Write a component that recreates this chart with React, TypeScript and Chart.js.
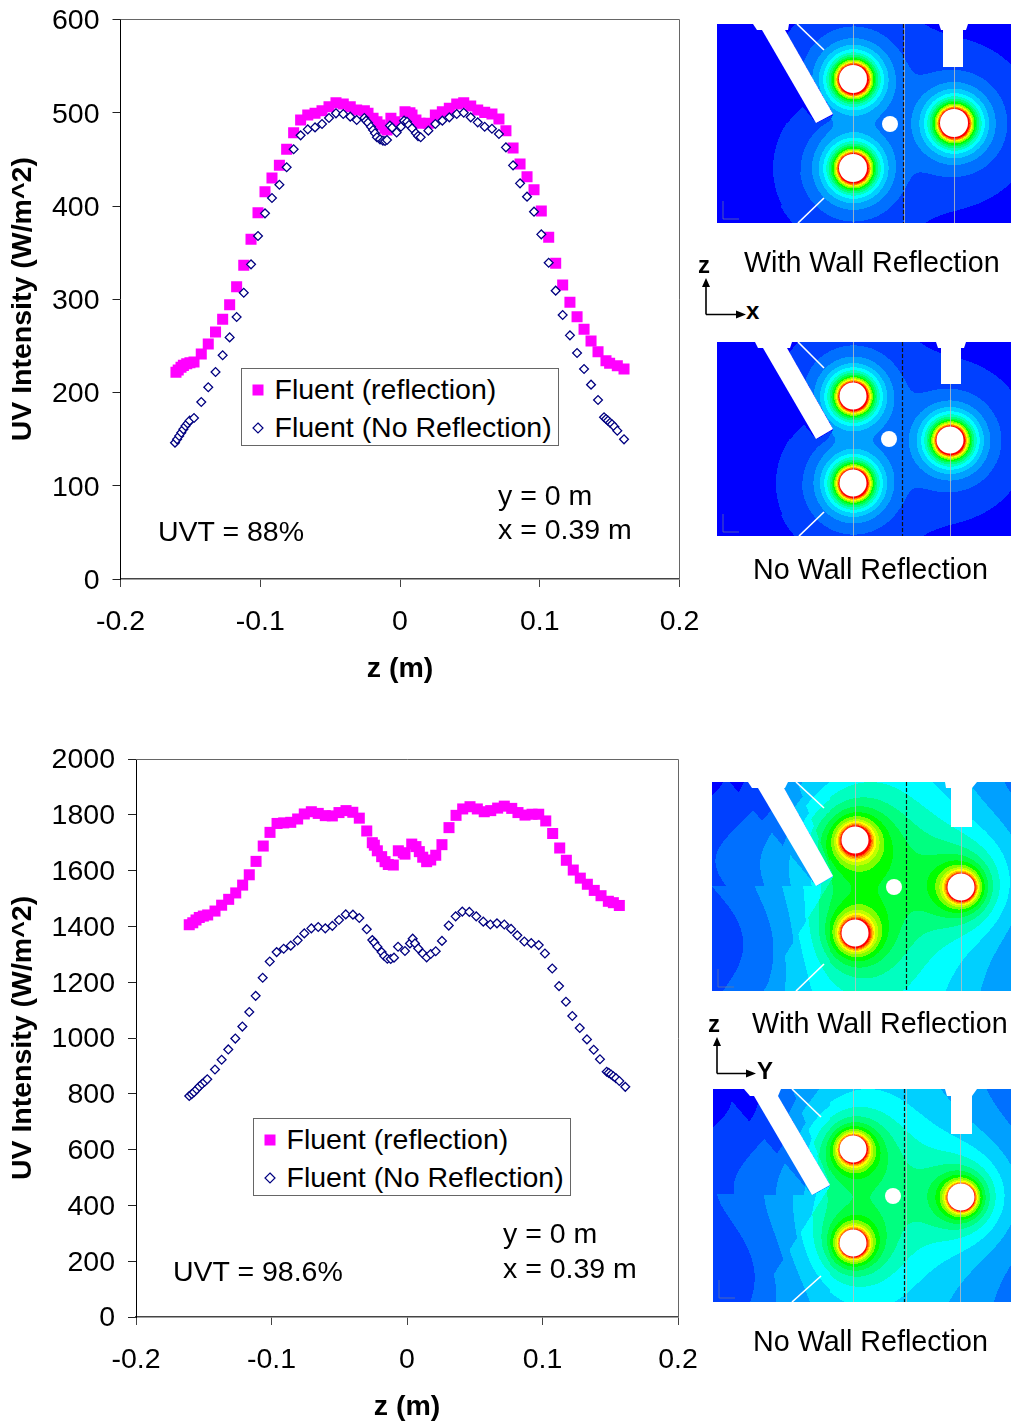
import React, { useEffect, useRef } from "react";
import { Chart, registerables } from "chart.js";

Chart.register(...registerables);

const FONT = "'Liberation Sans', Arial, sans-serif";
const seriesReflect = "Fluent (reflection)";
const seriesNone = "Fluent (No Reflection)";

// Chart 1, UVT = 88%
const z1Reflect = [-0.1603,-0.1587,-0.1567,-0.155,-0.1526,-0.1503,-0.1474,-0.1422,-0.1372,-0.132,-0.1269,-0.1219,-0.1169,-0.1118,-0.1066,-0.1016,-0.0966,-0.0916,-0.0863,-0.0811,-0.0761,-0.0711,-0.066,-0.0608,-0.0558,-0.0508,-0.0458,-0.0406,-0.0356,-0.031,-0.0255,-0.0229,-0.0193,-0.0165,-0.0143,-0.0107,-0.0093,-0.0065,-0.0036,0.0036,0.0071,0.0086,0.0114,0.0143,0.0203,0.0253,0.0303,0.0353,0.0406,0.0456,0.0506,0.0556,0.0606,0.0658,0.0708,0.0758,0.0809,0.0859,0.0909,0.0959,0.1011,0.1064,0.1114,0.1164,0.1216,0.1267,0.1317,0.1367,0.1417,0.1474,0.15,0.1555,0.1603];
const i1Reflect = [221.6,224.1,227,229.1,230.9,232,232.7,241.3,252,264.9,278.5,294.2,313.5,336.4,364.3,392.8,415.3,430,443.6,460.8,478.6,492.2,497.6,499.4,502.2,506.5,510.8,509.4,506.5,503,502.2,499.4,494,490.4,486.9,483.3,481.5,494,490.4,501,500,497.6,492.2,488.7,488.7,497.6,501,504.7,509.4,510.8,507.2,503,500.4,498.7,493.3,480.8,462.2,445,431.4,417.5,394.6,366.4,338.5,315.3,296.7,281.3,267.8,255.2,243.8,234.1,231.3,228.7,225.2];
const z1None = [-0.161,-0.1595,-0.158,-0.1565,-0.155,-0.1535,-0.152,-0.1505,-0.1474,-0.1422,-0.1372,-0.132,-0.1269,-0.1219,-0.1169,-0.1118,-0.1066,-0.1016,-0.0966,-0.0916,-0.0863,-0.0811,-0.0761,-0.0711,-0.066,-0.0608,-0.0558,-0.0508,-0.0458,-0.0406,-0.0356,-0.031,-0.0255,-0.0243,-0.0229,-0.0208,-0.0193,-0.0179,-0.0165,-0.0143,-0.0122,-0.0107,-0.0093,-0.0072,-0.0057,-0.0024,0.0007,0.0029,0.005,0.0064,0.0086,0.0114,0.0129,0.0148,0.0203,0.0253,0.0303,0.0353,0.0406,0.0456,0.0506,0.0556,0.0606,0.0658,0.0708,0.0758,0.0809,0.0859,0.0909,0.0959,0.1011,0.1064,0.1114,0.1164,0.1216,0.1267,0.1317,0.1367,0.1417,0.146,0.1474,0.1488,0.1503,0.1517,0.1534,0.1555,0.1603];
const i1None = [146.2,149.8,153.4,156.9,160.5,164.1,166.9,169.8,172.7,189.8,205.6,222,239.9,259.1,281,307,337.4,367.8,392.1,408.6,422.8,441.5,460.8,475.8,482.2,484.3,487.9,494.4,499.4,498.7,495.8,492.2,494.4,491.5,489.3,485,481.5,478,473.7,471.5,470,469.7,470.8,486.2,484,478.8,485,491.5,490.4,486.9,483.3,478,475,473.7,480.8,487.9,491.5,495.1,498.7,500,495.1,489.7,485,482.9,477.2,462.9,443.6,424.3,410,393.9,369.6,339.2,309.2,283.1,261.3,242.4,225.2,208.4,192,173.4,171.6,169.8,167.6,165.9,163.3,159,149.8];

// Chart 2, UVT = 98.6%
const z2Reflect = [-0.1607,-0.1581,-0.1557,-0.1533,-0.1503,-0.1471,-0.1417,-0.1368,-0.1316,-0.1264,-0.1213,-0.1164,-0.1114,-0.1061,-0.1011,-0.0959,-0.091,-0.0858,-0.0807,-0.0758,-0.0706,-0.0655,-0.0603,-0.0551,-0.0502,-0.045,-0.04,-0.0352,-0.0297,-0.0256,-0.0241,-0.0219,-0.0187,-0.0162,-0.0138,-0.0101,-0.0064,-0.0027,-0.0015,0.0035,0.0066,0.0091,0.0116,0.0145,0.0175,0.0212,0.0258,0.031,0.0362,0.0411,0.0465,0.0519,0.057,0.0618,0.0669,0.0718,0.0773,0.0819,0.0871,0.0923,0.0972,0.1024,0.1075,0.1127,0.1176,0.1227,0.1279,0.1331,0.1382,0.1432,0.1486,0.1523,0.1567];
const i2Reflect = [1406,1413,1423,1432,1437,1441,1455,1476,1497,1520,1548,1585,1633,1688,1737,1769,1771,1773,1785,1803,1811,1805,1797,1796,1808,1815,1809,1788,1742,1700,1691,1671,1650,1632,1622,1620,1671,1664,1659,1695,1686,1668,1648,1632,1638,1655,1693,1754,1798,1821,1829,1821,1811,1815,1824,1831,1823,1808,1799,1802,1802,1778,1733,1681,1637,1602,1573,1551,1529,1510,1490,1485,1475];
const z2None = [-0.1607,-0.1589,-0.1572,-0.1552,-0.1533,-0.1513,-0.1493,-0.1474,-0.1417,-0.1368,-0.1319,-0.1267,-0.1215,-0.1164,-0.1117,-0.1065,-0.1013,-0.0962,-0.091,-0.0858,-0.0807,-0.0758,-0.0706,-0.0655,-0.0603,-0.0551,-0.0502,-0.0452,-0.0399,-0.0352,-0.0297,-0.0256,-0.0241,-0.0219,-0.0187,-0.0168,-0.0145,-0.012,-0.0096,-0.0066,-0.0015,0.0022,0.0042,0.0059,0.0083,0.0116,0.0145,0.0175,0.0212,0.0258,0.0308,0.0359,0.0408,0.046,0.0511,0.0563,0.0615,0.0664,0.0718,0.0768,0.0814,0.0866,0.0917,0.0972,0.1018,0.1072,0.1122,0.1173,0.122,0.1275,0.1328,0.1378,0.1424,0.1474,0.1489,0.1506,0.1523,0.1542,0.1567,0.1611];
const i2None = [792,799,806,816,826,835,843,852,887,922,959,998,1041,1093,1151,1216,1274,1308,1320,1331,1350,1375,1393,1398,1393,1402,1423,1443,1442,1430,1390,1351,1342,1327,1308,1294,1284,1283,1288,1327,1312,1339,1356,1339,1321,1303,1289,1301,1311,1348,1403,1436,1453,1452,1436,1417,1407,1411,1407,1391,1368,1346,1340,1333,1303,1249,1186,1130,1079,1036,995,958,924,879,875,869,863,856,846,825];

const xTicks1 = [-0.2, -0.1, 0, 0.1, 0.2];
const yMax1 = 600, yStep1 = 100, yMax2 = 2000, yStep2 = 200;
const xTitle = "z (m)";
const yTitle = "UV Intensity (W/m^2)";

const bandColors = ["#0000ff","#0040ff","#0070ff","#00a0ff","#00d0ff","#00ffff","#00ffc0","#00ff80","#00ff40","#00ff00","#80ff00","#c0ff00","#ffff00","#ffc000","#ff8000","#ff4000","#ff0000"];

type Pt = [number, number];
type Panel = {
  x: number; y: number; w: number; h: number;
  lamps: Pt[]; hole: Pt; lampR: number;
  wall: Pt[]; flange: Pt[]; tee: Pt[]; lines: [Pt, Pt][];
  gray: number[]; dashed: number;
  coreK: number; coreP: number; tailK: number; tailP: number; q: number;
  base: number; wave: number; leak: number;
};

const sharp = { coreK: 18, coreP: 1.66, tailK: 0, tailP: 1, q: 2.5, base: 0, wave: 0, leak: 0 };

const panels: Panel[] = [
  { ...sharp, x: 717, y: 24, w: 294, h: 199, lamps: [[853,79],[853,168],[954,123]], hole: [890,124], lampR: 14,
    wall: [[762,30],[785,30],[833,114],[816,123]], flange: [[753,24],[789,24],[788,30],[757,30]],
    tee: [[939,24],[968,24],[966,30],[963,30],[963,67],[943,67],[943,30],[941,30]],
    lines: [[[797,24],[824,50]],[[824,198],[798,223]]], gray: [853,904,954], dashed: 903 },
  { ...sharp, x: 717, y: 342, w: 294, h: 194, lamps: [[853,396],[853,483],[950,440]], hole: [889,439], lampR: 13.5,
    wall: [[763,348],[787,348],[833,429],[816,439]], flange: [[755,342],[792,342],[790,348],[758,348]],
    tee: [[936,342],[966,342],[964,348],[961,348],[961,384],[941,384],[941,348],[938,348]],
    lines: [[[798,342],[824,368]],[[824,512],[799,536]]], gray: [853,950], dashed: 902 },
  { x: 712, y: 782, w: 299, h: 209, lamps: [[855,840],[855,933],[961,887]], hole: [894,887], lampR: 13.5,
    wall: [[758,788],[784,788],[833,876],[816,886]], flange: [[748,782],[788,782],[785,788],[752,788]],
    tee: [[945,782],[977,782],[972,788],[972,827],[951,827],[951,788],[946,788]],
    lines: [[[796,782],[824,808]],[[824,964],[796,991]]], gray: [855,961], dashed: 906,
    coreK: 10.5, coreP: 1.1, tailK: 3, tailP: 6, q: 1, base: 2.7, wave: 0.45, leak: 0.4 },
  { x: 713, y: 1089, w: 298, h: 213, lamps: [[853,1149],[853,1243],[961,1197]], hole: [893,1196], lampR: 13.5,
    wall: [[754,1096],[778,1096],[830,1185],[812,1195]], flange: [[744,1089],[781,1089],[778,1096],[750,1096]],
    tee: [[945,1089],[977,1089],[972,1096],[972,1134],[951,1134],[951,1096],[947,1096]],
    lines: [[[792,1089],[821,1117]],[[821,1276],[792,1302]]], gray: [853,906,960], dashed: 904,
    coreK: 10, coreP: 1.1, tailK: 3, tailP: 6, q: 1, base: 1.9, wave: 0.35, leak: 0.35 },
];

function crosses(a: Pt, b: Pt, c: Pt, d: Pt) {
  const s = (p: Pt, q: Pt, r: Pt) => (q[0]-p[0])*(r[1]-p[1]) - (q[1]-p[1])*(r[0]-p[0]);
  return s(a,b,c)*s(a,b,d) < 0 && s(c,d,a)*s(c,d,b) < 0;
}

function poly(ctx: CanvasRenderingContext2D, pts: Pt[], ox: number, oy: number) {
  ctx.beginPath();
  pts.forEach((p, i) => (i ? ctx.lineTo(p[0]-ox, p[1]-oy) : ctx.moveTo(p[0]-ox, p[1]-oy)));
  ctx.closePath();
  ctx.fill();
}

function drawPanel(c: HTMLCanvasElement, P: Panel) {
  const ctx = c.getContext("2d")!;
  const occl: [Pt, Pt][] = [[P.wall[0], P.wall[3]], [P.wall[1], P.wall[2]], [P.wall[2], P.wall[3]]];
  for (let py = 0; py < P.h; py++) for (let px = 0; px < P.w; px++) {
    const X = px + P.x, Y = py + P.y;
    let sum = 0;
    for (const L of P.lamps) {
      const r = Math.max(Math.hypot(X-L[0], Y-L[1]), 1);
      const hidden = occl.some(([a, b]) => crosses([X,Y], L, a, b));
      const t = (P.coreK * Math.pow(P.lampR / r, P.coreP) + P.tailK * Math.pow(P.lampR / r, P.tailP)) * (hidden ? P.leak : 1);
      sum += Math.pow(t, P.q);
    }
    const bump = Math.exp(-Math.pow((X - 885) / 120, 2));
    const v = Math.pow(sum, 1 / P.q) + P.base * bump + P.wave * Math.sin(Y / 26) * (X < 830 ? 1 : 0.5);
    ctx.fillStyle = bandColors[Math.min(bandColors.length-1, Math.max(0, Math.floor(v)))];
    ctx.fillRect(px, py, 1, 1);
  }
  ctx.strokeStyle = "rgba(190,190,190,0.8)"; ctx.lineWidth = 1;
  for (const g of P.gray) { ctx.beginPath(); ctx.moveTo(g-P.x+0.5, 0); ctx.lineTo(g-P.x+0.5, P.h); ctx.stroke(); }
  ctx.fillStyle = "#fff";
  poly(ctx, P.wall, P.x, P.y); poly(ctx, P.flange, P.x, P.y); poly(ctx, P.tee, P.x, P.y);
  for (const L of P.lamps) { ctx.beginPath(); ctx.arc(L[0]-P.x, L[1]-P.y, P.lampR, 0, 7); ctx.fill(); }
  ctx.beginPath(); ctx.arc(P.hole[0]-P.x, P.hole[1]-P.y, 8, 0, 7); ctx.fill();
  ctx.strokeStyle = "#fff"; ctx.lineWidth = 1.6;
  for (const [a, b] of P.lines) { ctx.beginPath(); ctx.moveTo(a[0]-P.x, a[1]-P.y); ctx.lineTo(b[0]-P.x, b[1]-P.y); ctx.stroke(); }
  ctx.strokeStyle = "#111"; ctx.setLineDash([4, 2]); ctx.lineWidth = 1.2;
  ctx.beginPath(); ctx.moveTo(P.dashed-P.x+0.5, 0); ctx.lineTo(P.dashed-P.x+0.5, P.h); ctx.stroke();
  ctx.setLineDash([]);
  ctx.strokeStyle = "#6a7a9a"; ctx.lineWidth = 0.7;
  ctx.beginPath(); ctx.moveTo(6, P.h-22); ctx.lineTo(6, P.h-4); ctx.lineTo(22, P.h-4); ctx.stroke();
}

const framePlugin = {
  id: "frame",
  afterDraw(chart: any) {
    const { ctx, chartArea: a } = chart;
    ctx.save();
    ctx.strokeStyle = "#666"; ctx.lineWidth = 1;
    ctx.beginPath();
    ctx.moveTo(a.left, Math.floor(a.top)+0.5); ctx.lineTo(Math.floor(a.right)+0.5, Math.floor(a.top)+0.5);
    ctx.lineTo(Math.floor(a.right)+0.5, a.bottom);
    ctx.stroke();
    ctx.restore();
  },
};

const toPoints = (zs: number[], is: number[]) => zs.map((x, k) => ({ x, y: is[k] }));

function makeChart(c: HTMLCanvasElement, o: any) {
  const tickFont = { family: FONT, size: 28.5 };
  const titleFont = { family: FONT, size: 28.5, weight: "bold" as const, lineHeight: 1 };
  return new Chart(c, {
    type: "scatter",
    data: { datasets: [
      { label: seriesReflect, data: toPoints(o.zR, o.iR), pointStyle: "rect", pointRadius: 7.8, pointBackgroundColor: "#ff00ff", pointBorderWidth: 0, order: 2 },
      { label: seriesNone, data: toPoints(o.zN, o.iN), pointStyle: "rectRot", pointRadius: 4.4, pointBackgroundColor: "#ffffff", pointBorderColor: "#000080", pointBorderWidth: 1.3, order: 1 },
    ] },
    options: {
      animation: false, responsive: false, devicePixelRatio: 1,
      layout: { padding: { top: o.padTop, right: o.padRight, left: 0, bottom: 0 } },
      plugins: { legend: { display: false }, tooltip: { enabled: false }, title: { display: false } },
      scales: {
        x: {
          type: "linear", min: -0.2, max: 0.2,
          afterFit(s: any) { s.height = o.xH; s.paddingLeft = 0; s.paddingRight = 0; },
          afterBuildTicks(s: any) { s.ticks = xTicks1.map((value) => ({ value })); },
          ticks: { font: tickFont, color: "#000", padding: o.xPad, maxRotation: 0, callback: (v: number) => String(v) },
          grid: { display: true, drawOnChartArea: false, drawTicks: true, tickLength: 8, color: "#444", lineWidth: 1 },
          border: { display: true, color: "#444", width: 1.6 },
          title: { display: true, text: xTitle, font: titleFont, color: "#000", padding: { top: 0, bottom: o.xTitlePad } },
        },
        y: {
          type: "linear", min: 0, max: o.yMax,
          afterFit(s: any) { s.width = o.yW; s.paddingTop = 0; s.paddingBottom = 0; },
          ticks: { font: tickFont, color: "#000", padding: 13, stepSize: o.yStep, labelOffset: o.yLabelOffset, callback: (v: number) => String(v) },
          grid: { display: true, drawOnChartArea: false, drawTicks: true, tickLength: 8, color: "#222", lineWidth: 1 },
          border: { display: true, color: "#000", width: 1 },
          title: { display: true, text: yTitle, font: titleFont, color: "#000", padding: { top: 9, bottom: 0 } },
        },
      },
    },
    plugins: [framePlugin],
  } as any);
}

const Txt = ({ x, cy, s, bold, size = 28.5 }: { x: number; cy: number; s: string; bold?: boolean; size?: number }) => (
  <div style={{ position: "absolute", left: x, top: cy - size / 2, fontFamily: FONT, fontSize: size, lineHeight: `${size}px`, fontWeight: bold ? 700 : 400, color: "#000", whiteSpace: "nowrap" }}>{s}</div>
);

const Legend = ({ x, y }: { x: number; y: number }) => (
  <>
    <div style={{ position: "absolute", left: x, top: y, width: 316, height: 76, border: "1.5px solid #666", background: "#fff" }} />
    <svg style={{ position: "absolute", left: x, top: y }} width={40} height={78}>
      <rect x={11.5} y={16.5} width={11} height={11} fill="#ff00ff" />
      <path d="M17 55 L22 60 L17 65 L12 60 Z" fill="#fff" stroke="#000080" strokeWidth={1.2} />
    </svg>
    <Txt x={x + 33.5} cy={y + 21} s={seriesReflect} />
    <Txt x={x + 33.5} cy={y + 59} s={seriesNone} />
  </>
);

const Axes = ({ ox, oy, w, h }: { ox: number; oy: number; w: number; h: number }) => (
  <svg style={{ position: "absolute", left: ox - 8, top: oy - h - 8 }} width={w + 16} height={h + 16}>
    <path d={`M8 ${h + 8 + 0.5} V10 M8 ${h + 8.5} H${w + 4}`} stroke="#000" strokeWidth={1.6} fill="none" />
    <path d={`M8 3 L12 12 L4 12 Z M${w + 12} ${h + 8.5} L${w + 2} ${h + 4.5} L${w + 2} ${h + 12.5} Z`} fill="#000" />
  </svg>
);

export default function App() {
  const c1 = useRef<HTMLCanvasElement>(null);
  const c2 = useRef<HTMLCanvasElement>(null);
  const pRefs = useRef<(HTMLCanvasElement | null)[]>([]);
  useEffect(() => {
    const a = makeChart(c1.current!, { zR: z1Reflect, iR: i1Reflect, zN: z1None, iN: i1None, yMax: yMax1, yStep: yStep1, padTop: 19.5, padRight: 40.5, xH: 121, yW: 120.5, xPad: 18, xTitlePad: 17, yLabelOffset: 2 });
    const b = makeChart(c2.current!, { zR: z2Reflect, iR: i2Reflect, zN: z2None, iN: i2None, yMax: yMax2, yStep: yStep2, padTop: 59, padRight: 42, xH: 105, yW: 136, xPad: 18, xTitlePad: 1, yLabelOffset: 1.5 });
    panels.forEach((P, i) => drawPanel(pRefs.current[i]!, P));
    return () => { a.destroy(); b.destroy(); };
  }, []);
  return (
    <div style={{ position: "absolute", left: 0, top: 0, width: 1011, height: 1422, overflow: "hidden", background: "#fff" }}>
      <canvas ref={c1} width={720} height={700} style={{ position: "absolute", left: 0, top: 0 }} />
      <canvas ref={c2} width={720} height={722} style={{ position: "absolute", left: 0, top: 700 }} />
      {panels.map((P, i) => (
        <canvas key={i} ref={(el) => { pRefs.current[i] = el; }} width={P.w} height={P.h} style={{ position: "absolute", left: P.x, top: P.y }} />
      ))}
      <Legend x={241} y={368} />
      <Legend x={253} y={1118} />
      <Txt x={158} cy={531} s="UVT = 88%" />
      <Txt x={498} cy={495} s="y = 0 m" />
      <Txt x={498} cy={529} s="x = 0.39 m" />
      <Txt x={173} cy={1271} s="UVT = 98.6%" />
      <Txt x={503} cy={1233} s="y = 0 m" />
      <Txt x={503} cy={1268} s="x = 0.39 m" />
      <Txt x={744} cy={262} s="With Wall Reflection" size={28.7} />
      <Txt x={753} cy={569} s="No Wall Reflection" size={28.7} />
      <Txt x={752} cy={1023} s="With Wall Reflection" size={28.7} />
      <Txt x={753} cy={1341} s="No Wall Reflection" size={28.7} />
      <Txt x={698} cy={265} s="z" bold size={24} />
      <Txt x={746} cy={311} s="x" bold size={24} />
      <Txt x={708} cy={1024} s="z" bold size={24} />
      <Txt x={757} cy={1071} s="Y" bold size={24} />
      <Axes ox={706} oy={314} w={36} h={31} />
      <Axes ox={717} oy={1073} w={35} h={31} />
    </div>
  );
}
